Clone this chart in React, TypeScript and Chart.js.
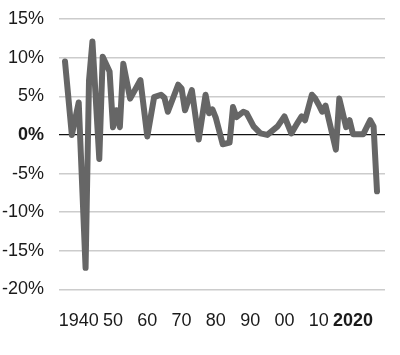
import React, { useEffect, useRef } from "react";
import { Chart, registerables } from "chart.js";

Chart.register(...registerables);

const years = [1929, 1931, 1933, 1935, 1936, 1937, 1939, 1940, 1942, 1943, 1944, 1945, 1946, 1948, 1951, 1953, 1955, 1957, 1958, 1959, 1962, 1963, 1964, 1966, 1968, 1970, 1971, 1972, 1973, 1975, 1977, 1978, 1979, 1981, 1982, 1984, 1986, 1988, 1991, 1993, 1995, 1997, 1998, 1999, 2001, 2002, 2003, 2004, 2005, 2008, 2009, 2011, 2012, 2013, 2016, 2018, 2019, 2020];
const growth = [9.5, 0.0, 4.2, -17.2, 7.0, 12.1, -3.1, 10.1, 8.2, 1.0, 3.2, 1.0, 9.2, 4.7, 7.1, -0.2, 4.9, 5.2, 4.8, 3.0, 6.5, 6.0, 3.2, 5.8, -0.6, 5.2, 2.8, 3.3, 2.2, -1.2, -1.0, 3.6, 2.3, 3.0, 2.8, 1.1, 0.2, 0.0, 1.1, 2.4, 0.2, 1.7, 2.4, 1.9, 5.2, 4.7, 3.9, 3.0, 3.8, -1.9, 4.7, 1.0, 1.9, 0.1, 0.1, 1.9, 1.1, -7.3];
const decadeTicks = [1940, 1950, 1960, 1970, 1980, 1990, 2000, 2010, 2020];
const yTicks = [15, 10, 5, 0, -5, -10, -15, -20];

const FONT = '"Liberation Sans", Arial, Helvetica, sans-serif';

export default function App() {
  const ref = useRef<HTMLCanvasElement | null>(null);

  useEffect(() => {
    if (!ref.current) return;
    const chart = new Chart(ref.current, {
      type: "line",
      data: {
        datasets: [
          {
            data: years.map((y, i) => ({ x: y, y: growth[i] })),
            borderColor: "#666666",
            borderWidth: 6,
            borderJoinStyle: "round",
            borderCapStyle: "round",
            pointRadius: 0,
            tension: 0,
            fill: false,
          },
        ],
      },
      options: {
        animation: false,
        responsive: false,
        devicePixelRatio: 1,
        layout: { padding: { top: 19, right: 15, bottom: 0, left: 0 } },
        plugins: { legend: { display: false }, tooltip: { enabled: false } },
        scales: {
          x: {
            type: "linear",
            min: 1927.25,
            max: 2022.33,
            grid: { display: false, drawTicks: false },
            border: { display: false },
            afterBuildTicks: (scale: any) => {
              scale.ticks = decadeTicks.map((v) => ({ value: v }));
            },
            afterFit: (scale: any) => {
              scale.height = 65.5;
              scale.paddingLeft = 0;
              scale.paddingRight = 0;
            },
            ticks: {
              padding: 21,
              labelOffset: -24,
              maxRotation: 0,
              autoSkip: false,
              color: "#1a1a1a",
              font: (ctx: any) => ({
                family: FONT,
                size: 18,
                weight: ctx.tick && ctx.tick.value === 2020 ? "bold" : "normal",
              }),
              callback: (v: any) => {
                const n = Number(v);
                if (n === 1940 || n === 2020) return String(n);
                return String(n % 100).padStart(2, "0");
              },
            },
          },
          y: {
            type: "linear",
            min: -20,
            max: 15,
            afterBuildTicks: (scale: any) => {
              scale.ticks = yTicks.map((v) => ({ value: v }));
            },
            afterFit: (scale: any) => {
              scale.width = 59;
              scale.paddingTop = 0;
              scale.paddingBottom = 0;
            },
            grid: {
              drawTicks: false,
              color: (ctx: any) => (ctx.tick && ctx.tick.value === 0 ? "#111111" : "#cccccc"),
              lineWidth: (ctx: any) => (ctx.tick && ctx.tick.value === 0 ? 1.2 : 1.5),
            },
            border: { display: false },
            ticks: {
              padding: 15,
              color: "#1a1a1a",
              font: (ctx: any) => ({
                family: FONT,
                size: 18,
                weight: ctx.tick && ctx.tick.value === 0 ? "bold" : "normal",
              }),
              callback: (v: any) => `${v}%`,
            },
          },
        },
      },
    });
    return () => chart.destroy();
  }, []);

  return (
    <div style={{ position: "fixed", left: 0, top: 0, width: 400, height: 355, background: "#fff" }}>
      <canvas ref={ref} width={400} height={355} style={{ display: "block", width: 400, height: 355 }} />
    </div>
  );
}
